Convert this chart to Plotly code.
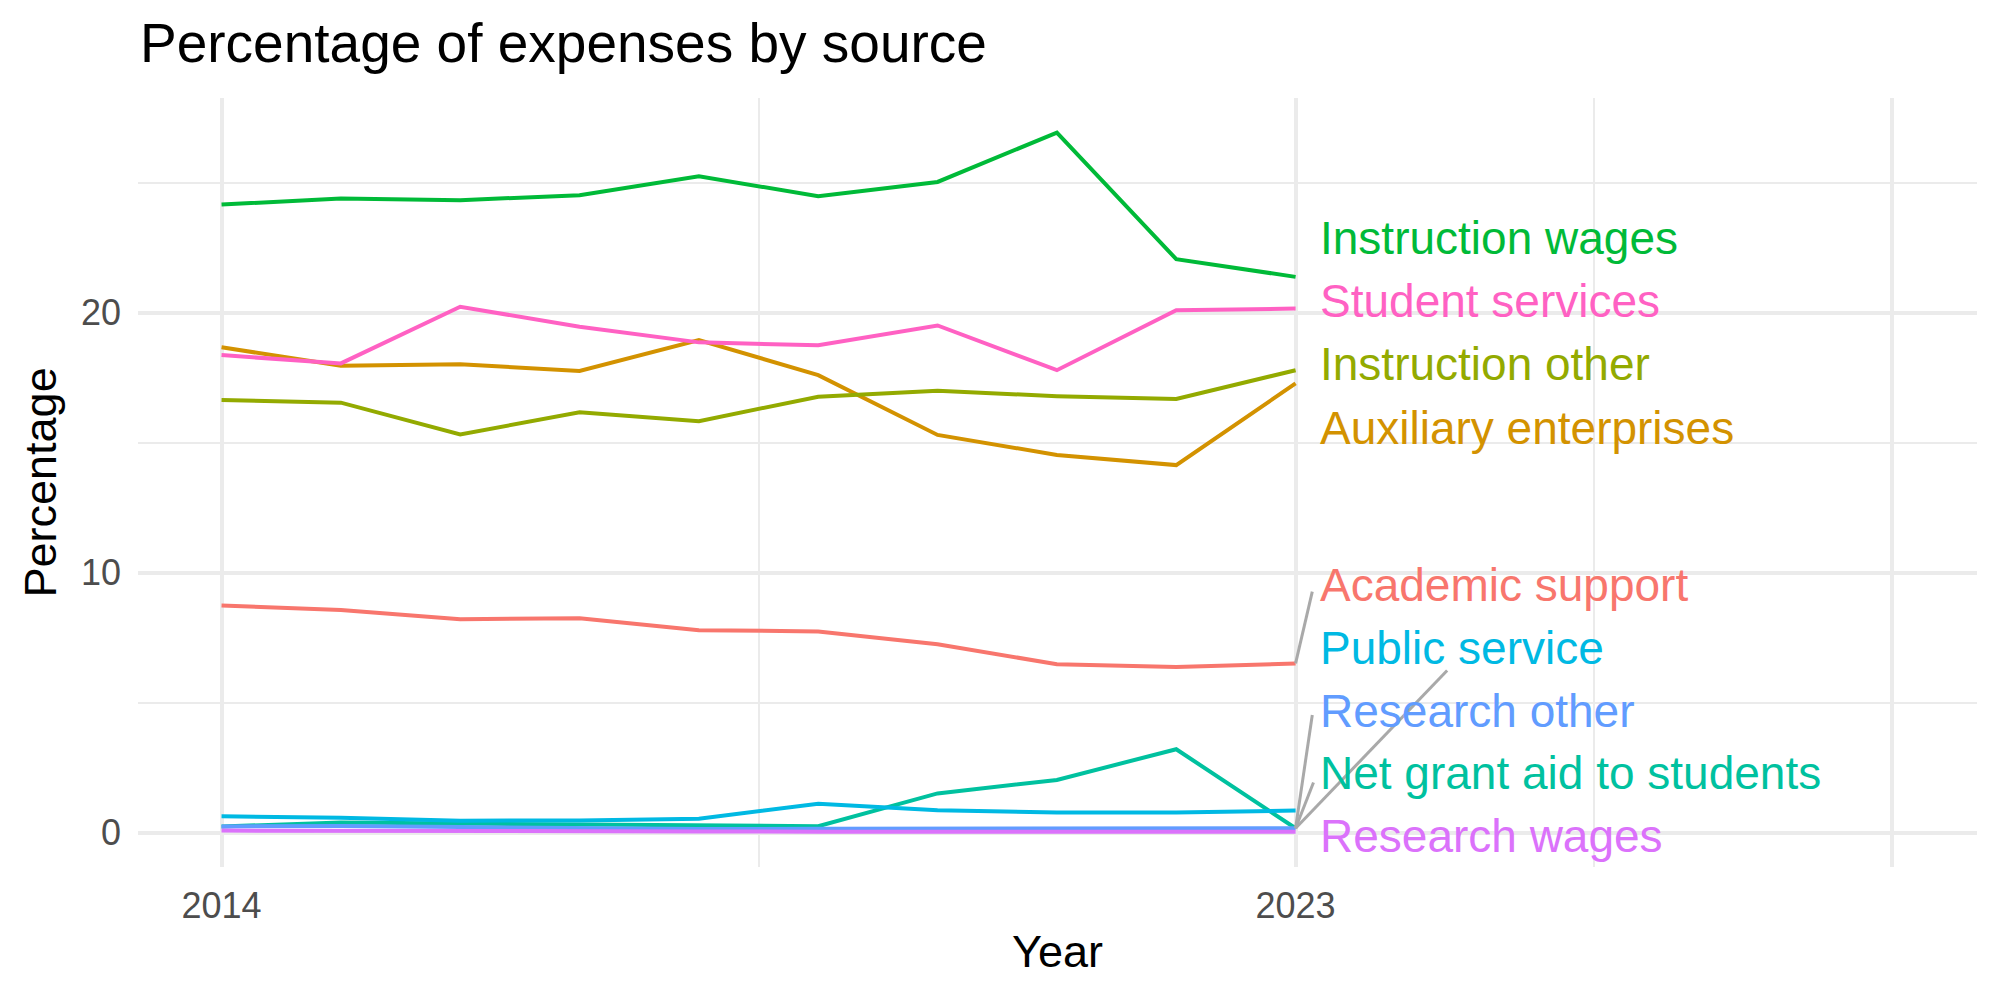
import plotly.graph_objects as go

years = [2014, 2015, 2016, 2017, 2018, 2019, 2020, 2021, 2022, 2023]

academic_support = [8.74, 8.57, 8.21, 8.25, 7.79, 7.74, 7.25, 6.48, 6.37, 6.51]
auxiliary_enterprises = [18.67, 17.96, 18.02, 17.76, 18.95, 17.60, 15.30, 14.53, 14.14, 17.28]
instruction_other = [16.64, 16.54, 15.32, 16.17, 15.83, 16.77, 17.00, 16.79, 16.68, 17.79]
instruction_wages = [24.16, 24.39, 24.33, 24.52, 25.25, 24.48, 25.03, 26.93, 22.06, 21.38]
net_grant_aid = [0.24, 0.39, 0.35, 0.31, 0.27, 0.25, 1.51, 2.03, 3.21, 0.17]
public_service = [0.63, 0.57, 0.46, 0.47, 0.54, 1.11, 0.86, 0.78, 0.78, 0.85]
research_other = [0.24, 0.26, 0.22, 0.18, 0.14, 0.15, 0.16, 0.16, 0.16, 0.17]
research_wages = [0.08, 0.08, 0.07, 0.06, 0.05, 0.04, 0.04, 0.04, 0.04, 0.04]
student_services = [18.37, 18.05, 20.23, 19.46, 18.86, 18.75, 19.51, 17.79, 20.10, 20.16]

series_names = ["Academic support", "Auxiliary enterprises", "Instruction other",
                "Instruction wages", "Net grant aid to students", "Public service",
                "Research other", "Research wages", "Student services"]
series_values = [academic_support, auxiliary_enterprises, instruction_other,
                 instruction_wages, net_grant_aid, public_service,
                 research_other, research_wages, student_services]
colors = ["#F8766D", "#D39200", "#93AA00", "#00BA38", "#00C19F",
          "#00B9E3", "#619CFF", "#DB72FB", "#FF61C3"]

# repelled label placement (layout, in data units)
label_x = 2023.19
label_y = {"Instruction wages": 22.89, "Student services": 20.45,
           "Instruction other": 18.02, "Auxiliary enterprises": 15.58,
           "Academic support": 9.52, "Public service": 7.10,
           "Research other": 4.69, "Net grant aid to students": 2.28,
           "Research wages": -0.13}
# segment: (start series, end x, end y)
segments = [("Academic support", 2023.14, 9.27),
            ("Research other", 2023.14, 4.53),
            ("Net grant aid to students", 2023.15, 1.93),
            ("Research other", 2024.27, 6.24)]

FONT = "Liberation Sans"
fig = go.Figure()
for name, vals, col in zip(series_names, series_values, colors):
    fig.add_trace(go.Scatter(x=years, y=vals, mode="lines", name=name,
                             line=dict(color=col, width=4), showlegend=False))

values_by_name = dict(zip(series_names, series_values))
for src, ex, ey in segments:
    fig.add_shape(type="line", xref="x", yref="y",
                  x0=years[-1], y0=values_by_name[src][-1], x1=ex, y1=ey,
                  line=dict(color="#A9A9A9", width=3), layer="above")

ydelta = 0.0
for name, col in zip(series_names, colors):
    fig.add_annotation(x=label_x, y=label_y[name] - ydelta, xref="x", yref="y",
                       text=name, showarrow=False, xanchor="left", yanchor="middle",
                       font=dict(family=FONT, size=46, color=col))

# axis titles
fig.add_annotation(x=0.5, y=0, xref="paper", yref="paper", text="Year",
                   showarrow=False, xanchor="center", yanchor="middle", yshift=-84,
                   font=dict(family=FONT, size=45, color="black"))
fig.add_annotation(x=0, y=0.5, xref="paper", yref="paper", text="Percentage",
                   showarrow=False, xanchor="center", yanchor="middle", xshift=-98,
                   textangle=-90, font=dict(family=FONT, size=45, color="black"))

fig.update_layout(
    width=2000, height=1000,
    margin=dict(l=138, r=23, t=98, b=133),
    paper_bgcolor="white", plot_bgcolor="white",
    font=dict(family=FONT),
    title=dict(text="Percentage of expenses by source", x=140 / 2000, xref="container",
               xanchor="left", y=0.957, yref="container", yanchor="middle",
               font=dict(family=FONT, size=55, color="black")),
    xaxis=dict(range=[2013.30, 2028.71], tickmode="array",
               tickvals=[2014, 2023, 2028], ticktext=["2014", "2023", ""],
               showgrid=True, gridcolor="#EBEBEB", gridwidth=4,
               zeroline=False, showline=False, ticks="",
               ticklabelstandoff=14,
               tickfont=dict(family=FONT, size=36, color="#4D4D4D"),
               minor=dict(tickmode="array", tickvals=[2018.5, 2025.5], showgrid=True,
                          gridcolor="#EBEBEB", gridwidth=2.2)),
    yaxis=dict(range=[-1.32, 28.26], tickmode="array", tickvals=[0, 10, 20],
               ticktext=["0", "10", "20"],
               showgrid=True, gridcolor="#EBEBEB", gridwidth=4,
               zeroline=False, showline=False, ticks="",
               ticklabelstandoff=16,
               tickfont=dict(family=FONT, size=36, color="#4D4D4D"),
               minor=dict(tickmode="array", tickvals=[5, 15, 25], showgrid=True,
                          gridcolor="#EBEBEB", gridwidth=2.2)),
)

fig.write_html("out.html")
